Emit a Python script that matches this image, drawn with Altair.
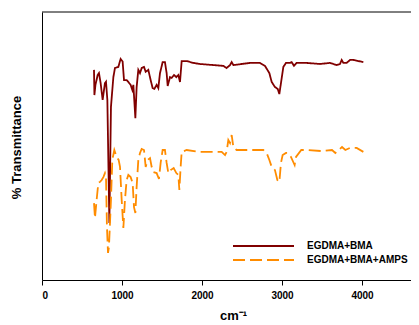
import altair as alt
import pandas as pd

# EGDMA+BMA (dark red)
wn_a = [650, 655, 668, 696, 712, 733, 758, 787, 800, 817, 842, 862, 892, 912, 954, 983, 1008, 1025, 1058, 1079,
        1108, 1129, 1142, 1167, 1183, 1204, 1225, 1246, 1275, 1296, 1329, 1358, 1383, 1404, 1433, 1454, 1475, 1508,
        1537, 1558, 1571, 1600, 1621, 1650, 1679, 1704, 1725, 1746, 1808, 1892, 1975, 2142, 2267, 2308, 2350, 2371,
        2392, 2600, 2725, 2787, 2842, 2871, 2912, 2946, 2967, 2987, 3017, 3050, 3100, 3121, 3150, 3183, 3308, 3475,
        3600, 3642, 3683, 3725, 3746, 3767, 3808, 3850, 3892, 4017]
t_a = [78.4, 69.0, 72.8, 76.5, 77.2, 73.5, 67.2, 73.5, 74.0, 67.2, 21.3, 64.6, 75.7, 79.1, 79.5, 82.5, 81.5, 74.6, 74.6, 73.9,
       72.8, 70.9, 72.8, 60.4, 72.0, 78.4, 77.2, 79.1, 79.5, 77.7, 78.4, 74.6, 71.6, 71.3, 72.8, 71.6, 77.2, 81.3,
       81.3, 77.2, 72.4, 75.7, 75.4, 76.5, 75.7, 76.5, 73.9, 81.7, 81.7, 81.0, 80.6, 80.2, 79.9, 79.1, 80.2, 81.3,
       80.2, 81.0, 81.0, 79.9, 77.2, 73.9, 72.0, 71.3, 69.4, 73.5, 79.5, 81.0, 81.0, 81.3, 79.9, 81.0, 81.0, 80.6,
       81.0, 80.6, 80.2, 80.6, 82.1, 81.0, 81.0, 82.1, 82.1, 81.3]

# EGDMA+BMA+AMPS (orange, dashed)
wn_b = [650, 662, 683, 704, 725, 746, 767, 787, 800, 812, 825, 837, 862, 879, 904, 933, 958, 975, 996, 1017,
        1037, 1058, 1079, 1108, 1133, 1150, 1167, 1183, 1204, 1225, 1246, 1275, 1296, 1321, 1350, 1371, 1392, 1433,
        1462, 1483, 1508, 1537, 1558, 1579, 1608, 1646, 1679, 1704, 1717, 1733, 1746, 1808, 1975, 2142, 2246, 2288,
        2308, 2329, 2350, 2371, 2392, 2433, 2600, 2767, 2808, 2842, 2871, 2912, 2942, 2967, 2987, 3008, 3050, 3071,
        3112, 3158, 3175, 3241, 3333, 3500, 3625, 3667, 3708, 3750, 3792, 3850, 3933, 4017]
t_b = [28.7, 23.1, 29.9, 36.2, 36.6, 37.3, 38.4, 39.9, 38.4, 19.8, 10.1, 12.3, 29.9, 44.8, 48.5, 45.9, 44.8, 42.2, 29.9, 19.4,
       29.9, 37.3, 39.2, 38.4, 36.2, 27.2, 25.0, 34.7, 44.8, 47.4, 48.9, 48.5, 42.2, 44.8, 45.5, 42.2, 40.3, 39.9,
       37.7, 43.7, 48.5, 48.5, 43.7, 39.9, 41.0, 41.8, 39.9, 39.2, 33.6, 42.2, 47.8, 48.5, 47.8, 47.8, 47.8, 46.6,
       47.8, 52.2, 51.1, 54.1, 49.6, 48.5, 48.5, 48.5, 47.4, 44.8, 42.2, 41.0, 37.3, 36.6, 43.7, 46.6, 47.4, 47.4,
       45.9, 42.9, 45.9, 48.5, 48.5, 48.1, 48.5, 47.4, 48.5, 49.6, 48.5, 49.3, 49.3, 47.8]

series_names = ["EGDMA+BMA", "EGDMA+BMA+AMPS"]
series_colors = ["#800000", "#FF8C00"]
series_dash = [[1, 0], [12, 5]]
x_ticks = [0, 1000, 2000, 3000, 4000]

df = pd.concat([
    pd.DataFrame({"wn": wn_a, "T": t_a, "series": series_names[0], "order": range(len(wn_a))}),
    pd.DataFrame({"wn": wn_b, "T": t_b, "series": series_names[1], "order": range(len(wn_b))}),
])

FONT = "Liberation Sans"
W, H = 369, 268

lines = alt.Chart(df).mark_line(strokeWidth=1.8).encode(
    x=alt.X("wn:Q", scale=alt.Scale(domain=[0, 4612.5], nice=False),
            axis=alt.Axis(values=x_ticks, format="d", title="cm⁻¹", grid=False,
                          labelFont=FONT, labelFontWeight="bold", labelFontSize=10, labelColor="black",
                          tickColor="black", tickSize=5, labelPadding=5, domainColor="black",
                          titleFont=FONT, titleFontWeight="bold", titleFontSize=13, titleColor="black",
                          titleX=191, titleY=29, titleBaseline="top")),
    y=alt.Y("T:Q", scale=alt.Scale(domain=[0, 100], nice=False),
            axis=alt.Axis(ticks=False, labels=False, grid=False, title="% Transmittance",
                          domainColor="black",
                          titleFont=FONT, titleFontWeight="bold", titleFontSize=13, titleColor="black",
                          titleX=-19, titleY=135, titleBaseline="bottom", titleAngle=270)),
    color=alt.Color("series:N", scale=alt.Scale(domain=series_names, range=series_colors), legend=None),
    strokeDash=alt.StrokeDash("series:N", scale=alt.Scale(domain=series_names, range=series_dash), legend=None),
    order="order:Q",
)

# manual legend
leg_y = [234, 248]
legend_layers = []
for name, col, dash, yy in zip(series_names, series_colors, series_dash, leg_y):
    ldf = pd.DataFrame({"series": [name]})
    legend_layers.append(
        alt.Chart(ldf).mark_rule(color=col, strokeWidth=1.8, strokeDash=dash).encode(
            x=alt.value(191), x2=alt.value(252), y=alt.value(yy))
    )
    legend_layers.append(
        alt.Chart(ldf).mark_text(align="left", baseline="middle", font=FONT, fontWeight="bold",
                                 fontSize=10, color="black").encode(
            x=alt.value(265), y=alt.value(yy), text="series:N")
    )

top_border = alt.Chart(pd.DataFrame({"a": [0]})).mark_rule(color="black", strokeWidth=1).encode(
    x=alt.value(0), x2=alt.value(W), y=alt.value(0))

chart = alt.layer(lines, top_border, *legend_layers).properties(
    width=W, height=H,
    autosize=alt.AutoSizeParams(type="none"),
    padding={"left": 34, "top": 4, "right": 0, "bottom": 43},
).configure_view(stroke=None)

chart.save("out.html", embed_options={"renderer": "svg", "actions": False})
